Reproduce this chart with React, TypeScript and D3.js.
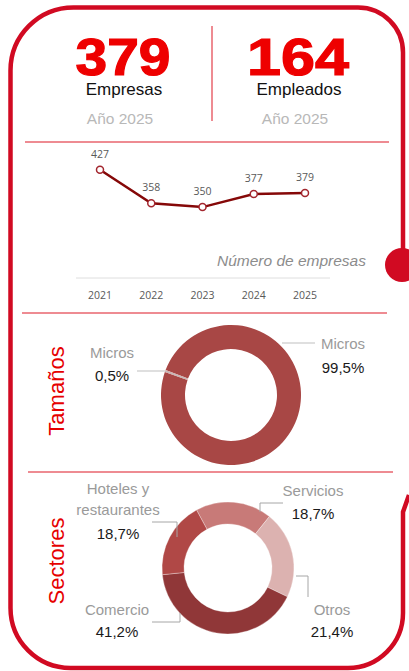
import React from 'react';
import * as d3 from 'd3';

// Headline figures
const kpis = [
  { value: '379', label: 'Empresas', sub: 'Año 2025', cx: 123, width: 95 },
  { value: '164', label: 'Empleados', sub: 'Año 2025', cx: 298, width: 102 },
];

// Number of companies per year
const years = ['2021', '2022', '2023', '2024', '2025'];
const empresas = [427, 358, 350, 377, 379];

// Company size split
const sizeLabels = ['Micros', 'Micros'];
const sizeValues = [99.5, 0.5];
const sizeText = ['99,5%', '0,5%'];

// Sector split
const sectorLabels = ['Servicios', 'Otros', 'Comercio', 'Hoteles y|restaurantes'];
const sectorValues = [18.7, 21.4, 41.2, 18.7];
const sectorText = ['18,7%', '21,4%', '41,2%', '18,7%'];
const sectorColors = ['#c87a78', '#dcb2b0', '#903738', '#b04846'];

const FRAME = '#d10a22';
const DIVIDER = '#e8646e';
const FONT = "'Liberation Sans', Arial, sans-serif";
const deg = Math.PI / 180;

export default function App(): React.ReactElement {
  // line chart scales
  const x = d3.scalePoint<string>().domain(years).range([100, 305]);
  const y = d3.scaleLinear().domain([200, 450]).range([280, 158.5]);
  const line = d3.line<number>()
    .x((_, i) => x(years[i]) as number)
    .y((d) => y(d));

  // size donut
  const sizePie = d3.pie<number>().sort(null).startAngle(-69.1 * deg).endAngle(290.9 * deg)(sizeValues);
  const sizeArc = d3.arc<d3.PieArcDatum<number>>().innerRadius(46).outerRadius(70);

  // sector donut
  const sectorPie = d3.pie<number>().sort(null).startAngle(-28.5 * deg).endAngle(331.5 * deg)(sectorValues);
  const sectorArc = d3.arc<d3.PieArcDatum<number>>().innerRadius(44).outerRadius(66);

  const leader = (pts: [number, number][]) => d3.line()(pts) as string;

  const sizeLabelPos = [
    { x: 343, y1: 349, y2: 373, pts: [[315, 343], [282, 343]] as [number, number][] },
    { x: 112, y1: 358, y2: 381, pts: [[137, 371], [165, 371], [187, 379]] as [number, number][] },
  ];
  const sectorLabelPos = [
    { x: 313, y1: 496, y2: 519, pts: [[283, 503], [260, 503], [260, 512]] as [number, number][] },
    { x: 332, y1: 615, y2: 637, pts: [[296, 576], [308, 576], [308, 597]] as [number, number][] },
    { x: 117, y1: 615, y2: 637, pts: [[152, 622], [180, 622], [180, 613]] as [number, number][] },
    { x: 118, y1: 494, y2: 539, pts: [[152, 522], [177, 522], [177, 537]] as [number, number][] },
  ];

  return (
    <svg width={409} height={671} style={{ position: 'absolute', left: 0, top: 0 }} fontFamily={FONT}>
      <rect width={409} height={671} fill="#fff" />

      {/* frame */}
      <path
        d="M 403 250 L 403 52.5 A 45 45 0 0 0 358 7.5 L 73.5 7.5 A 63 63 0 0 0 10.5 70.5 L 10.5 608 A 60 60 0 0 0 70.5 668 L 348 668 A 55 55 0 0 0 403 613 L 403 512 L 409 495"
        fill="none"
        stroke={FRAME}
        strokeWidth={4.5}
      />
      <circle cx={402} cy={265} r={17} fill={FRAME} />

      {/* KPIs */}
      <line x1={212} x2={212} y1={26} y2={121} stroke={DIVIDER} strokeWidth={1.5} />
      {kpis.map((k) => (
        <g key={k.label}>
          <text x={k.cx} y={75} textAnchor="middle" fontSize={51} fontWeight={700} fill="#ee0000"
            stroke="#ee0000" strokeWidth={1.2}
            textLength={k.width} lengthAdjust="spacingAndGlyphs">{k.value}</text>
          <text x={k.cx + 1} y={95} textAnchor="middle" fontSize={17} fill="#111">{k.label}</text>
          <text x={k.cx - 3} y={124} textAnchor="middle" fontSize={15.5} fill="#b8b8b8">{k.sub}</text>
        </g>
      ))}
      <line x1={25} x2={389} y1={142} y2={142} stroke={DIVIDER} strokeWidth={1.5} />

      {/* line chart */}
      <line x1={76} x2={330} y1={278} y2={278} stroke="#dedede" strokeWidth={1} />
      <path d={line(empresas) as string} fill="none" stroke="#850808" strokeWidth={2.5} />
      {empresas.map((v, i) => (
        <g key={years[i]}>
          <circle cx={x(years[i])} cy={y(v)} r={3.5} fill="#fff" stroke="#a3262e" strokeWidth={1.5} />
          <text x={x(years[i])} y={y(v) - 12} textAnchor="middle" fontSize={10.5}
            fontFamily="'Open Sans', sans-serif" fill="#595959">{v}</text>
          <text x={x(years[i])} y={299} textAnchor="middle" fontSize={10.5}
            fontFamily="'Open Sans', sans-serif" fill="#595959">{years[i]}</text>
        </g>
      ))}
      <text x={366} y={266} textAnchor="end" fontSize={15.5} fontStyle="italic" fill="#8c8c8c">
        Número de empresas
      </text>
      <line x1={22} x2={387} y1={313} y2={313} stroke={DIVIDER} strokeWidth={1.5} />

      {/* sizes */}
      <text transform="translate(64,391) rotate(-90)" textAnchor="middle" fontSize={22} fill="#e60000">Tamaños</text>
      <g transform="translate(231,395)">
        {sizePie.map((s, i) => (
          <path key={i} d={sizeArc(s) as string} fill={i === 0 ? '#a84745' : '#d9a3a2'} />
        ))}
      </g>
      {sizeLabelPos.map((p, i) => (
        <g key={i}>
          <path d={leader(p.pts)} fill="none" stroke="#bfbfbf" strokeWidth={1} />
          <text x={p.x} y={p.y1} textAnchor="middle" fontSize={15} fill="#9a9a9a">{sizeLabels[i]}</text>
          <text x={p.x} y={p.y2} textAnchor="middle" fontSize={15} fill="#1a1a1a">{sizeText[i]}</text>
        </g>
      ))}
      <line x1={28} x2={393} y1={472} y2={472} stroke={DIVIDER} strokeWidth={1.5} />

      {/* sectors */}
      <text transform="translate(64,561) rotate(-90)" textAnchor="middle" fontSize={22} fill="#e60000">Sectores</text>
      <g transform="translate(228,568)">
        {sectorPie.map((s, i) => (
          <path key={i} d={sectorArc(s) as string} fill={sectorColors[i]} stroke="#fff" strokeOpacity={0.4} strokeWidth={0.8} />
        ))}
      </g>
      {sectorLabelPos.map((p, i) => {
        const lines = sectorLabels[i].split('|');
        return (
          <g key={i}>
            <path d={leader(p.pts)} fill="none" stroke="#a6a6a6" strokeWidth={1} />
            {lines.map((l, j) => (
              <text key={j} x={p.x} y={p.y1 + j * 21} textAnchor="middle" fontSize={15} fill="#9a9a9a">{l}</text>
            ))}
            <text x={p.x} y={p.y2} textAnchor="middle" fontSize={15} fill="#1a1a1a">{sectorText[i]}</text>
          </g>
        );
      })}
    </svg>
  );
}
